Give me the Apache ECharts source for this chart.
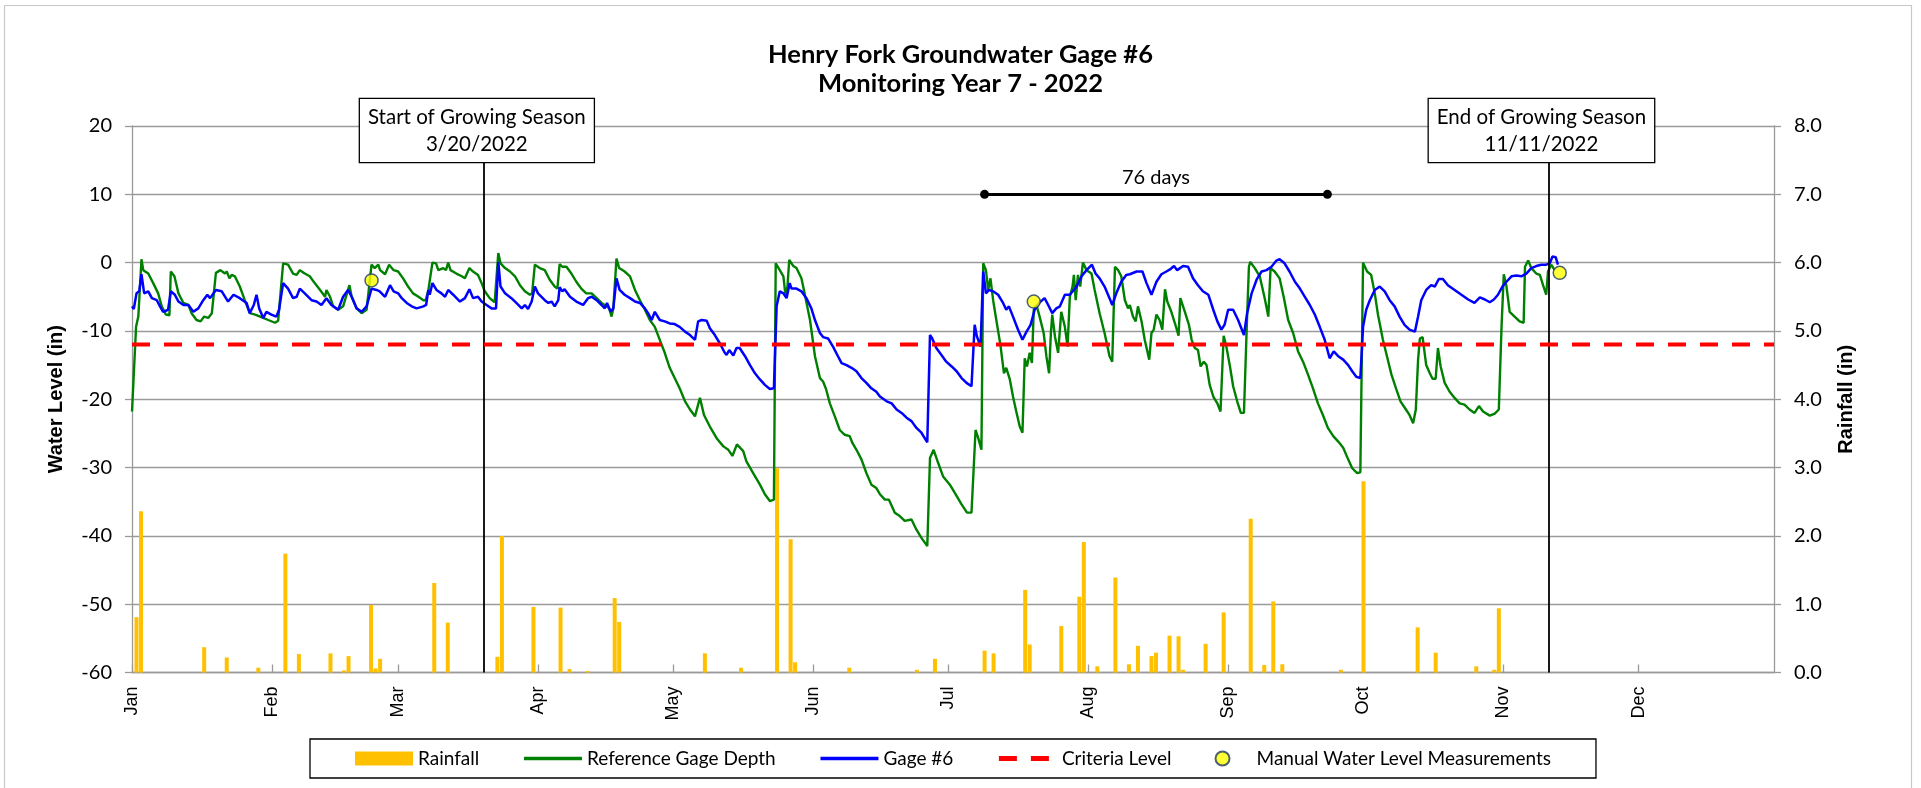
<!DOCTYPE html>
<html><head><meta charset="utf-8">
<script src="https://cdn.jsdelivr.net/npm/echarts@6/dist/echarts.min.js"></script>
<style>html,body{margin:0;padding:0;background:#fff}#c{width:1921px;height:788px}</style>
</head><body><div id="c"></div>
<script>
// day-of-year (0 = Jan 1, 2022)
const monthStarts = [0,31,59,90,120,151,181,212,243,273,304,334];
const monthLabels = ['Jan','Feb','Mar','Apr','May','Jun','Jul','Aug','Sep','Oct','Nov','Dec'];

// Rainfall (in): [day, inches]
const rainfall = [[1,0.81],[2,2.36],[16,0.37],[21,0.22],[28,0.07],[34,1.74],[37,0.27],[44,0.28],[47,0.03],[48,0.24],
[53,0.99],[54,0.06],[55,0.2],[67,1.31],[70,0.73],[81,0.23],[82,2.0],[89,0.96],[95,0.95],[97,0.05],[101,0.02],
[107,1.09],[108,0.74],[127,0.28],[135,0.07],[143,2.99],[146,1.95],[147,0.15],[159,0.07],[174,0.04],[178,0.2],
[189,0.32],[191,0.28],[198,1.21],[199,0.41],[206,0.68],[210,1.11],[211,1.91],[214,0.09],[218,1.39],[221,0.12],
[223,0.39],[226,0.24],[227,0.29],[230,0.54],[232,0.53],[233,0.04],[238,0.42],[242,0.88],[248,2.25],[251,0.11],
[253,1.04],[255,0.12],[268,0.04],[273,2.8],[285,0.66],[289,0.29],[298,0.09],[302,0.04],[303,0.94]];

// Reference Gage Depth (in): [day, depth]
const referenceGage = [[0,-21.8],[0.4,-22],[0.9,-9.4],[1.4,-7.9],[2.1,0.5],[2.5,-1.1],[3.6,-1.6],[4.7,-3],[5.8,-4.5],[6.6,-6.4],[7.5,-7.6],[8.3,-7.7],[8.6,-1.3],[9.4,-2],[10.3,-4.5],[11.4,-5.9],[12.5,-6.2],[13.2,-7.4],[14.3,-8.4],[15.2,-8.6],[16,-7.9],[16.9,-8.1],[17.7,-7.4],[18.6,-1.5],[19.6,-1.1],[20.6,-1.6],[21,-1.3],[21.6,-2.3],[22.1,-1.8],[22.8,-2],[23.9,-3.5],[25,-5.5],[26.1,-7.4],[27.3,-7.6],[29.1,-8.1],[30.2,-8.4],[31.7,-8.8],[32.4,-8.5],[33.5,-0.1],[34.6,-0.3],[35.7,-1.6],[36.5,-1.8],[37.2,-1.1],[38.3,-1.6],[39.4,-2],[40.5,-3],[41.7,-4],[42.8,-5],[43.1,-4],[43.9,-5],[44.6,-6.4],[45.7,-6.9],[46.8,-6.4],[48.2,-3.3],[48.7,-5],[49.8,-6.7],[50.9,-7.4],[52,-6.9],[53.1,-0.3],[53.8,-0.8],[54.6,-0.3],
[55,-1.1],[56.1,-1.7],[57,-0.3],[58,-1.1],[59,-1.3],[60.1,-2.3],[61.2,-3.5],[62.3,-4.5],[63.5,-5],[64.6,-5.5],[65.1,-5.5],[65.7,-4],[66.6,0],[67.4,-0.1],[67.9,-1.1],[69,-0.8],[69.6,-1.1],[70.1,0],[70.6,-1.1],[71.9,-1.6],[73.1,-2],[73.8,-2.3],[74.8,-0.8],[75.6,-1.3],[76.7,-1.8],[77.5,-3],[78.2,-4.2],[79.3,-5.2],[80.4,-5.8],[81.2,1.4],[81.7,-0.1],[82.7,-0.8],[83.8,-1.3],[84.9,-2],[86,-3.3],[87.1,-4.2],[88.2,-4.7],[88.7,-4.5],[89.3,-0.3],[90.4,-0.8],[91.5,-1.1],[92.6,-2.5],[93.7,-3.5],[94.3,-3.8],[94.8,-0.2],[95.4,-0.6],[96.3,-0.6],[97.4,-1.6],[98.5,-2.8],[99.6,-3.8],[100.7,-4.5],[101.9,-4.5],[103,-5.2],[104.1,-5.9],[105.2,-6.4],[105.8,-6.7],[106.3,-7.9],[106.7,-6.7],[107.4,0.6],[108,-0.8],[109.2,-1.3],[110.4,-2],
[111.5,-4],[112.6,-5.5],[113.7,-6.9],[114.8,-8.4],[115.9,-9.4],[117,-11.3],[118.1,-13.2],[119.2,-15.4],[120.3,-16.9],[121.4,-18.4],[122.6,-20.3],[123.7,-21.5],[124.8,-22.5],[125.9,-19.8],[126.8,-22.3],[128.1,-24],[129.6,-25.7],[131.1,-26.9],[132.2,-27.4],[133.1,-28.3],[134.1,-26.6],[135.5,-27.6],[136.2,-29.1],[137.7,-30.8],[139.2,-32.5],[140.3,-33.9],[141.4,-34.9],[142.3,-34.7],[142.7,-0.1],[143.6,-1.1],[144.4,-2],[144.9,-5],[145.3,-3.5],[145.7,0.4],[146.6,-0.5],[147.3,-0.8],[148.4,-2.3],[149.1,-4.5],[150.3,-8.4],[151.4,-13.7],[152.5,-16.9],[153.2,-17.4],[153.9,-18.6],[154.7,-20.6],[155.8,-22.5],[156.9,-24.5],[158,-25.2],[159.1,-25.4],[159.7,-26.4],[160.6,-27.4],[161.7,-28.8],[162.8,-30.8],[163.9,-32.5],[165,-33],[165.8,-33.9],
[166.9,-34.7],[167.8,-34.7],[169.1,-36.6],[170.2,-37.1],[171.3,-37.8],[172.8,-37.6],[173.9,-39.1],[175,-40.3],[176.3,-41.5],[176.9,-28.6],[177.7,-27.4],[178.7,-29.3],[179.8,-31.3],[181.3,-32.5],[182.4,-33.7],[183.9,-35.4],[185.1,-36.6],[186.1,-36.6],[187,-24.5],[187.6,-25.7],[188.3,-27.4],[188.7,-0.1],[189.3,-1.1],[189.8,-4],[190.3,-2.3],[190.9,-5.5],[191.6,-8.4],[192.5,-12],[193.3,-16.2],[193.8,-15.4],[194.6,-17.1],[195.3,-19.6],[196.1,-22],[196.8,-24],[197.4,-24.9],[197.9,-14],[198.4,-15.2],[199,-13.2],[199.5,-14.7],[199.9,-6.9],[200.5,-6.2],[201.2,-7.9],[202.1,-10.3],[202.7,-13.7],[203.3,-16.2],[203.7,-10.3],[204,-7.6],[204.6,-10.8],[205.3,-13.2],[206,-7.2],[206.8,-9.4],[207.4,-12.3],[207.9,-5],[208.5,-3.5],[208.8,-1.8],[209.2,-5.5],[209.7,-1.8],[210.2,-3.5],[210.8,0],[211.6,-1.1],[212.7,-1.6],[213.4,-4],[214.5,-7.4],[215.6,-10.3],[216.7,-13.7],[217.3,-14.5],[217.9,-0.6],[218.6,-1.1],[219.3,-2],[220.1,-5.5],[220.8,-6.7],
[221.2,-6.2],[221.9,-7.9],[222.5,-8.6],[223,-6.4],[223.8,-8.6],[224.5,-11.3],[225.5,-14.2],[226,-10.3],[226.5,-9.8],[227.1,-7.6],[227.8,-8.4],[228.4,-9.8],[229,-3.9],[229.5,-5.7],[230.4,-7.2],[231.3,-9.1],[232,-10.7],[232.4,-5.2],[233.4,-7.2],[234.3,-9.1],[234.9,-11.3],[235.6,-12.5],[236.3,-12.8],[236.9,-15.2],[237.6,-14.5],[238.2,-15],[238.9,-17.9],[239.7,-19.6],[240.6,-20.6],[241.3,-21.8],[242,-10.7],[242.6,-12.3],[243.4,-15.2],[244.1,-18.1],[245,-20.3],[245.8,-22],[246.5,-22],[247.1,-9.8],[247.6,-0.6],[247.9,0.1],[248.9,-0.8],[250,-2],[251.1,-5.2],[251.9,-7.9],[252.4,-0.8],[253.3,-1.3],[254.4,-2.3],[255.3,-5],[256.3,-8.4],[257.4,-10.3],[258.5,-13],[259.6,-14.5],[260.7,-16.4],[261.8,-18.4],[262.9,-20.6],[264,-22.3],[265.1,-24.2],[266.3,-25.4],[267.4,-26.2],[268.5,-27.1],[269.6,-28.8],[270.5,-30.1],[271.6,-30.8],[272.3,-30.7],[272.9,0],[273.8,-1.3],[274.7,-1.8],[275.5,-4.5],[276.2,-7.6],
[276.6,-8.9],[277.3,-11.3],[278.2,-13.7],[279.2,-16.4],[280.3,-18.6],[281.2,-20.3],[282.4,-21.5],[283.2,-22.3],[284,-23.5],[284.6,-21.5],[285.1,-14.2],[285.5,-11.1],[286.1,-10.9],[286.9,-15],[287.7,-16.2],[288.3,-17],[289,-17],[289.5,-12.5],[290.1,-15.2],[291,-17.6],[292.1,-18.9],[293.2,-19.8],[294.3,-20.6],[295.4,-20.8],[296.5,-21.5],[297.6,-22],[298.6,-21],[299.5,-21.8],[301,-22.4],[302.1,-22.1],[303,-21.5],[303.6,-9.4],[304.1,-1.7],[304.7,-3.5],[305.4,-7.2],[306.5,-7.9],[307.6,-8.6],[308.5,-8.8],[308.8,-0.6],[309.5,0.3],[310.2,-0.8],[311.3,-1.6],[312.1,-1.8],[312.8,-3.3],[313.5,-4.7],[313.9,-1.3],[314.6,-0.3],[315.4,-1.1]];

// Gage #6 (in): [day, depth]
const gage6 = [[0,-6.4],[0.4,-6.8],[1,-4.5],[1.6,-4.2],[2.1,-1.7],[2.7,-4.5],[3.6,-4.2],[4.4,-5.2],[5.5,-5.5],[6.2,-6.4],[6.9,-7.2],[8,-6.9],[8.6,-4.2],[9.5,-4.7],[10.3,-5.7],[11.4,-6.2],[12.5,-6.2],[13.6,-7.2],[14.7,-6.7],[15.8,-5.5],[16.7,-4.7],[17.3,-5.2],[18.6,-4],[19.9,-4.2],[21.3,-5.7],[22.5,-4.7],[23.9,-5.2],[25.4,-5.9],[26.1,-7.4],[27,-6.2],[27.6,-4.7],[28.2,-6.7],[29.1,-8.1],[29.8,-7.2],[30.9,-7.6],[32,-7.9],[32.6,-6.9],[33.5,-3],[34.6,-3.8],[35.7,-5.2],[36.5,-5],[37.2,-3.8],[38.3,-4.5],[39.8,-5.5],[40.9,-5.7],[42,-6.2],[43.1,-5.2],[44.2,-6.2],[45.7,-6.9],[46.8,-5],[47.9,-4],[48.7,-5],[49.8,-6.7],[50.9,-7.2],[52,-6.4],[53.1,-3.8],[54.2,-4],[54.9,-4.2],
[56.1,-5],[57.2,-3.3],[58,-4.2],[59,-4.5],[59.8,-5.2],[60.9,-5.9],[62,-6.4],[63.1,-6.7],[64.6,-6.4],[65.2,-6.2],[65.7,-4],[66,-4.7],[66.6,-3],[67.5,-4],[68.6,-4.5],[69.4,-5],[70.1,-4],[71.2,-4.7],[72.7,-5.7],[73.8,-5.2],[74.8,-3.9],[75.6,-5.2],[76.7,-5],[77.5,-5.7],[78.6,-6.2],[79.7,-6.7],[80.7,-6.7],[81.2,0.1],[81.7,-3.5],[82.7,-4.5],[84.1,-5.2],[85.2,-5.9],[86.4,-6.7],[87.1,-6.2],[87.8,-6.8],[88.6,-5.7],[89.3,-3.5],[90,-4.5],[91.5,-5.5],[92.3,-5.9],[93,-5.7],[93.7,-6.4],[94.5,-5.5],[94.8,-3.6],[95.4,-4.2],[95.9,-3.9],[97.1,-5],[98.5,-5.7],[100,-6.2],[101.1,-5.2],[101.9,-5],[103,-5.5],[104.1,-6.2],[104.8,-6.7],[105.3,-5.9],[106.1,-7.2],[106.7,-6.7],[107.4,-2.3],[108.1,-4],[109.2,-4.7],[110.4,-5.2],
[111.5,-5.7],[112.6,-5.9],[113.7,-6.7],[114.4,-7.4],[115.2,-8.4],[115.9,-7.2],[117,-8.4],[118.1,-8.6],[119.2,-8.9],[120.3,-9],[121.4,-9.4],[122.6,-10.1],[123.7,-10.6],[124.8,-11.3],[125.5,-8.6],[126.3,-8.4],[127.4,-8.5],[128.1,-9.6],[129.2,-10.6],[130.3,-11.8],[131.4,-13.2],[131.8,-13.5],[132.4,-12.8],[133.3,-13.6],[134,-12.5],[134.7,-12.5],[135.9,-13.7],[137,-15],[138.1,-16.2],[139.2,-17.1],[140.3,-17.9],[141.4,-18.5],[142.3,-18.4],[142.9,-6.4],[143.6,-4.2],[144.4,-4.5],[145.1,-5.2],[145.8,-3],[146.2,-3.8],[147.3,-3.8],[148.4,-4.2],[149.5,-5.2],[150.6,-6.7],[151.4,-8.4],[152.5,-10.3],[153.2,-10.9],[154.3,-11.1],[155.4,-12.3],[156.5,-13.7],[157.3,-14.7],[158.4,-15],[159.5,-15.4],[160.6,-15.9],[161.7,-16.9],[162.8,-17.6],[163.9,-18.4],[165,-18.9],[165.8,-19.6],
[167.3,-20.3],[168.4,-20.6],[169.5,-21.5],[170.6,-22],[171.7,-22.7],[172.8,-23.2],[173.9,-24.2],[175,-24.9],[176.3,-26.3],[176.9,-10.6],[177.4,-11.1],[178.3,-12.5],[179.4,-13.5],[180.5,-14.5],[181.7,-15.2],[182.8,-15.9],[183.9,-16.9],[185,-17.6],[186.1,-18.1],[186.8,-9.1],[187.3,-10.8],[188.1,-12.3],[188.7,-1.3],[189.3,-4.5],[190,-4],[190.9,-4.2],[192,-4.7],[193.1,-5.9],[193.8,-6.9],[194.4,-6.4],[195.3,-7.9],[196.4,-9.8],[197.4,-11.3],[198.3,-10.1],[199.2,-9.1],[200.1,-6.9],[201.1,-5.9],[202.3,-5.2],[203.1,-6.2],[204,-7.4],[204.9,-6.7],[205.7,-6.4],[206.8,-4.7],[207.9,-4.7],[209.4,-3.5],[210.5,-2],[211.6,-1.1],[212.8,-0.3],[213.6,-1.6],[214.5,-2.3],[215.6,-3.5],[216.7,-5.2],[217.3,-6.2],[218.2,-4.5],[219.3,-2.8],[220.4,-1.8],[221.2,-1.7],
[222.7,-1.3],[224,-1.3],[224.9,-3],[226,-4.7],[227.1,-2.8],[228.2,-1.7],[229.3,-1.3],[230.1,-1],[231,-0.5],[231.7,-1.1],[233,-0.5],[234.1,-0.6],[235.2,-2.3],[236.3,-3.3],[237.4,-4.2],[238.6,-4.7],[239.7,-6.9],[240.6,-8.6],[241.5,-9.8],[242.2,-9.1],[243,-6.9],[244.1,-6.9],[245.2,-8.4],[246.5,-10.6],[247.2,-7.4],[248.2,-4.5],[249.3,-2.5],[250.4,-1.3],[251.5,-1.1],[252.6,-0.6],[253.7,0.3],[254.4,0.5],[255.5,-0.1],[256.6,-1.3],[257.8,-2.8],[258.9,-3.8],[260,-5],[261.1,-6.2],[262.2,-7.6],[263.3,-9.4],[264.4,-11.3],[265.5,-14],[266.4,-13],[267.4,-13.7],[268.5,-14.2],[269.6,-15],[270.5,-15.9],[271.4,-16.7],[272.3,-16.9],[272.9,-9.4],[273.6,-6.9],[274.4,-5.5],[275.5,-4],[276.6,-3.5],
[277.7,-4.2],[278.8,-5.5],[279.9,-6.4],[281,-7.9],[282.1,-9.1],[283.2,-9.8],[284.4,-10.1],[285.1,-7.9],[285.8,-5.5],[286.9,-4],[288,-3.3],[288.8,-3.5],[289.7,-2.4],[290.6,-2.4],[291.7,-3.3],[293.2,-4],[294.7,-4.7],[296.2,-5.4],[297.6,-5.9],[298.8,-5.1],[299.9,-5.4],[301,-5.8],[301.9,-5.4],[302.8,-4.7],[303.8,-3.5],[304.7,-2.8],[305.8,-2],[306.9,-1.9],[308,-2],[309.1,-1.6],[310.2,-0.8],[311.3,-0.5],[312.4,-0.3],[313.5,-0.3],[314.3,-0.1],[314.9,0.9],[315.6,0.8],[316.1,-0.3]];

// Manual Water Level Measurements: [day, depth]
const manualMeasurements = [[53.1,-2.6],[199.9,-5.7],[316.5,-1.5]];

const criteriaLevel = -12;
const growingSeasonDays = [78, 314];
const growingSeasonLabels = ['Start of Growing Season\n3/20/2022', 'End of Growing Season\n11/11/2022'];
const successSpanDays = [189, 265];
const successSpanLevel = 10;
const successSpanLabel = '76 days';

const GRAY = '#9a9a9a';
const CAL = 'Lato, "Open Sans", sans-serif';
const ARIAL = '"Liberation Sans", Arial, sans-serif';

const chart = echarts.init(document.getElementById('c'), null, {renderer: 'canvas'});
chart.setOption({
  animation: false,
  backgroundColor: '#fff',
  title: {
    text: 'Henry Fork Groundwater Gage #6\nMonitoring Year 7 - 2022',
    left: 'center', top: 35,
    textStyle: {fontFamily: CAL, fontWeight: 'bold', fontSize: 25.5, lineHeight: 29, color: '#000'}
  },
  grid: {left: 132, right: 147, top: 126, bottom: 115.5, containLabel: false},
  legend: {
    left: 310, top: 739,
    padding: [10, 45, 10, 45],
    itemGap: 43, itemWidth: 58, itemHeight: 14,
    borderColor: '#000', borderWidth: 1.3, borderRadius: 0,
    textStyle: {fontFamily: CAL, fontSize: 19, color: '#000'},
    data: [
      {name: 'Rainfall', icon: 'rect'},
      {name: 'Reference Gage Depth', itemStyle: {opacity: 0}, lineStyle: {width: 3.5}},
      {name: 'Gage #6', itemStyle: {opacity: 0}, lineStyle: {width: 3.5}},
      {name: 'Criteria Level', itemStyle: {opacity: 0}, lineStyle: {width: 5}},
      {name: 'Manual Water Level Measurements', icon: 'circle'}
    ]
  },
  xAxis: {
    type: 'value', min: 0, max: 364,
    splitLine: {show: false},
    axisLine: {onZero: false, lineStyle: {color: GRAY, width: 1.3}},
    axisTick: {show: true, inside: true, length: 8, customValues: monthStarts, lineStyle: {color: GRAY, width: 1.3}},
    axisLabel: {
      customValues: monthStarts, rotate: 90, margin: 14,
      fontFamily: ARIAL, fontSize: 18, color: '#000',
      formatter: v => monthLabels[monthStarts.indexOf(Math.round(v))] || ''
    }
  },
  yAxis: [{
    type: 'value', min: -60, max: 20, interval: 10,
    name: 'Water Level (in)', nameLocation: 'middle', nameGap: 66, nameRotate: 90,
    nameTextStyle: {fontFamily: ARIAL, fontWeight: 'bold', fontSize: 20, color: '#000'},
    axisLine: {show: true, onZero: false, lineStyle: {color: GRAY, width: 1.3}},
    axisTick: {show: true, length: 7, lineStyle: {color: GRAY, width: 1.3}},
    axisLabel: {fontFamily: CAL, fontSize: 20, color: '#000', margin: 20},
    splitLine: {show: true, lineStyle: {color: GRAY, width: 1.3}}
  }, {
    type: 'value', min: 0, max: 8, interval: 1, position: 'right',
    name: 'Rainfall (in)', nameLocation: 'middle', nameGap: 62, nameRotate: 90,
    nameTextStyle: {fontFamily: ARIAL, fontWeight: 'bold', fontSize: 20, color: '#000'},
    axisLine: {show: true, onZero: false, lineStyle: {color: GRAY, width: 1.3}},
    axisTick: {show: true, length: 7, lineStyle: {color: GRAY, width: 1.3}},
    axisLabel: {fontFamily: CAL, fontSize: 20, color: '#000', margin: 20, formatter: v => v.toFixed(1)},
    splitLine: {show: false}
  }],
  series: [
    {
      name: 'Rainfall', type: 'bar', yAxisIndex: 1, barWidth: 4, z: 1,
      itemStyle: {color: '#FFC000'}, data: rainfall
    },
    {
      name: 'Reference Gage Depth', type: 'line', symbol: 'none', z: 3,
      lineStyle: {color: '#008000', width: 2.4}, itemStyle: {color: '#008000'},
      data: referenceGage
    },
    {
      name: 'Gage #6', type: 'line', symbol: 'none', z: 4,
      lineStyle: {color: '#0000FF', width: 2.5}, itemStyle: {color: '#0000FF'},
      data: gage6,
      markLine: {
        silent: true, symbol: ['circle', 'circle'], symbolSize: 9, animation: false,
        lineStyle: {color: '#000', width: 3, type: 'solid'},
        label: {show: true, position: 'insideMiddleTop', distance: 7, formatter: successSpanLabel,
                fontFamily: CAL, fontSize: 20, color: '#000'},
        data: [[{coord: [successSpanDays[0], successSpanLevel]}, {coord: [successSpanDays[1], successSpanLevel]}]]
      }
    },
    {
      name: 'Criteria Level', type: 'line', symbol: 'none', z: 5,
      lineStyle: {color: '#FF0000', width: 4, type: [18, 14]}, itemStyle: {color: '#FF0000'},
      data: [[0, criteriaLevel], [364, criteriaLevel]],
      markLine: {
        silent: true, symbol: 'none', animation: false,
        lineStyle: {color: '#000', width: 1.8, type: 'solid'},
        label: {show: false},
        data: growingSeasonDays.map(d => ({xAxis: d}))
      }
    },
    {
      name: 'Manual Water Level Measurements', type: 'scatter', symbol: 'circle', symbolSize: 13, z: 6,
      itemStyle: {color: '#FFFF00', borderColor: '#1F3864', borderWidth: 1.5},
      data: manualMeasurements
    }
  ]
});

// Growing season label boxes and outer frame
const boxes = growingSeasonDays.map((d, i) => {
  const x = chart.convertToPixel({xAxisIndex: 0}, d);
  return {
    type: 'text', z: 100, x: x - 7, y: 99,
    style: {
      text: growingSeasonLabels[i], align: 'center', verticalAlign: 'top',
      font: '20.5px ' + CAL, fill: '#000', lineHeight: 27,
      backgroundColor: '#fff', borderColor: '#000', borderWidth: 1.3,
      padding: [5, 8, 4, 8]
    }
  };
});
chart.setOption({
  graphic: [
    {type: 'rect', z: -10, silent: true, shape: {x: 4.5, y: 5.5, width: 1907, height: 800},
     style: {fill: 'none', stroke: '#c8c8c8', lineWidth: 1.2}},
    ...boxes
  ]
});
</script>
</body></html>
